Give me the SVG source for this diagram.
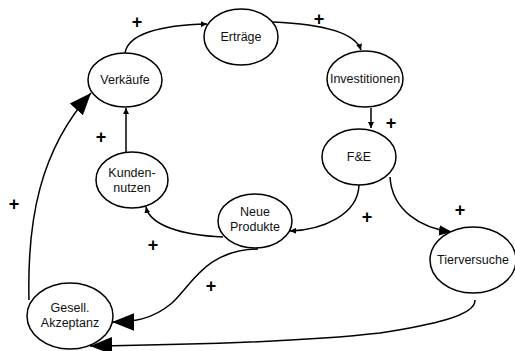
<svg xmlns="http://www.w3.org/2000/svg" width="515" height="351" viewBox="0 0 515 351">
<defs>
<marker id="sm" viewBox="0 0 10 10" refX="10" refY="5" markerWidth="6" markerHeight="6" orient="auto" markerUnits="userSpaceOnUse"><path d="M0,0 L10,5 L0,10 z" fill="#000"/></marker>
<marker id="lg" viewBox="0 0 10 10" refX="10" refY="5" markerWidth="22" markerHeight="22" orient="auto" markerUnits="userSpaceOnUse"><path d="M0,1 L10,5 L0,9 z" fill="#000"/></marker>
<marker id="md" viewBox="0 0 10 10" refX="10" refY="5" markerWidth="13" markerHeight="13" orient="auto" markerUnits="userSpaceOnUse"><path d="M0,1 L10,5 L0,9 z" fill="#000"/></marker>
</defs>
<style>
.n ellipse{fill:#fff;stroke:#000;stroke-width:1.5}
.n text{font-family:"Liberation Sans",Arial,sans-serif;font-size:12.5px;text-anchor:middle;fill:#111}
.c path{fill:none;stroke:#000;stroke-width:1.5}
.p{font-family:"Liberation Sans",Arial,sans-serif;font-size:18px;font-weight:bold;text-anchor:middle;fill:#000}
</style>
<rect width="515" height="351" fill="#fff"/>
<g id="connectors" class="c">
<path d="M125,53 C128,34 160,25 207,24" marker-end="url(#sm)"/>
<path d="M273,22 C320,24 355,32 361,50" marker-end="url(#sm)"/>
<path d="M371,108 L371,128" marker-end="url(#sm)"/>
<path d="M359,185 C358,215 322,230 290,231" marker-end="url(#sm)"/>
<path d="M390,177 C392,210 420,228 452,232" marker-end="url(#md)"/>
<path d="M223,237 C180,235 150,225 146,207" marker-end="url(#sm)"/>
<path d="M126,152 L126,108" marker-end="url(#sm)"/>
<path d="M258,249 C205,250 192,285 172,303 C152,320 132,322 112,322" marker-end="url(#lg)"/>
<path d="M475,300 C476,316 430,325 380,333 C300,342 180,345 90,346" marker-end="url(#lg)"/>
<path d="M29,300 C27,220 40,150 91,93" marker-end="url(#lg)"/>
</g>
<g id="ertraege" class="n"><ellipse cx="241" cy="37" rx="37" ry="28"/><text x="241" y="41">Erträge</text></g>
<g id="verkaeufe" class="n"><ellipse cx="125" cy="80" rx="37" ry="27"/><text x="125" y="84">Verkäufe</text></g>
<g id="investitionen" class="n"><ellipse cx="365" cy="79" rx="38" ry="28"/><text x="365" y="83">Investitionen</text></g>
<g id="fue" class="n"><ellipse cx="359" cy="157" rx="37" ry="28"/><text x="359" y="161">F&amp;E</text></g>
<g id="kundennutzen" class="n"><ellipse cx="132" cy="180" rx="36" ry="28"/><text x="132" y="177">Kunden-</text><text x="132" y="192">nutzen</text></g>
<g id="neueprodukte" class="n"><ellipse cx="255" cy="221" rx="37" ry="27"/><text x="255" y="216">Neue</text><text x="255" y="231">Produkte</text></g>
<g id="tierversuche" class="n"><ellipse cx="473" cy="260" rx="43" ry="33"/><text x="473" y="264">Tierversuche</text></g>
<g id="akzeptanz" class="n"><ellipse cx="70" cy="316" rx="43" ry="33"/><text x="70" y="312">Gesell.</text><text x="70" y="327">Akzeptanz</text></g>
<g id="signs">
<text class="p" x="137" y="28">+</text>
<text class="p" x="319" y="25">+</text>
<text class="p" x="391" y="129">+</text>
<text class="p" x="101" y="143">+</text>
<text class="p" x="460" y="216">+</text>
<text class="p" x="367" y="223">+</text>
<text class="p" x="153" y="251">+</text>
<text class="p" x="14" y="210">+</text>
<text class="p" x="211" y="292">+</text>
</g>
</svg>
